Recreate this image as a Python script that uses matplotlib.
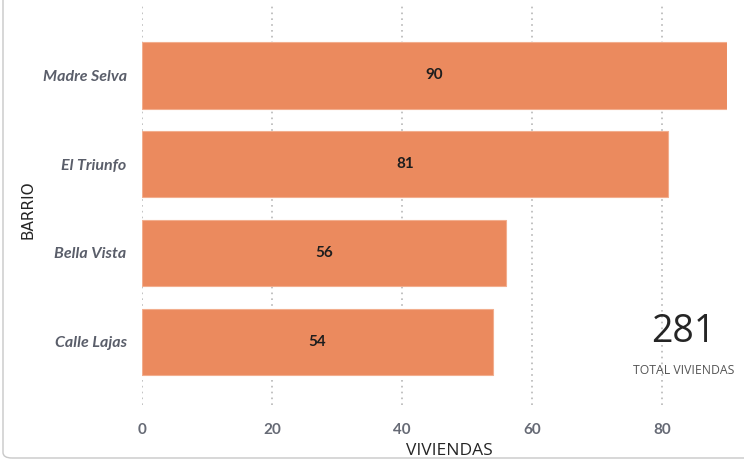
import matplotlib.pyplot as plt
from matplotlib.patches import FancyBboxPatch

barrios = ["Madre Selva", "El Triunfo", "Bella Vista", "Calle Lajas"]
viviendas = [90, 81, 56, 54]
xticks = [0, 20, 40, 60, 80]
total = sum(viviendas)

bar_color = "#EB8A5E"
label_color = "#5A5E6A"

plt.rcParams['font.family'] = ['Lato', 'DejaVu Sans']

fig = plt.figure(figsize=(7.44, 4.62), dpi=100)
ax = fig.add_axes([142 / 744, 1 - 405 / 462, 585 / 744, 400 / 462])

# light frame round the visual (only left and bottom edges show)
frame = FancyBboxPatch((3 / 744, 1 - 458 / 462), 1.2, 1.2, boxstyle="round,pad=0,rounding_size=0.012",
                       transform=fig.transFigure, fill=False, edgecolor="#C8C8C8", linewidth=1.0)
fig.patches.append(frame)

ypos = list(range(len(barrios)))
ax.barh(ypos, viviendas, height=0.75, color=bar_color, edgecolor="#F2AE8E", linewidth=0.8, zorder=2)
for y, v in zip(ypos, viviendas):
    ax.text(v / 2, y, str(v), ha="center", va="center", fontsize=11, fontweight="bold",
            color="#1E1E1E", zorder=3)

ax.set_xlim(0, 90)
ax.set_ylim(3.71, -0.79)
ax.set_xticks(xticks)
ax.set_yticks(ypos)
ax.set_yticklabels(barrios, fontsize=11.5, fontweight="bold", fontstyle="italic", color=label_color)
ax.tick_params(axis="x", labelsize=11, labelcolor="#666A75", length=0, pad=13)
ax.tick_params(axis="y", length=0, pad=11)
for lab in ax.get_xticklabels():
    lab.set_fontweight("bold")
ax.grid(axis="x", linestyle=(0, (1, 2.5)), color="#B8B8B8", linewidth=1.2, zorder=0)
ax.set_axisbelow(True)
for s in ax.spines.values():
    s.set_visible(False)

fig.text(28 / 744, 1 - 210 / 462, "BARRIO", rotation=90, ha="center", va="center",
         fontsize=11, color="#252525", family=["DejaVu Sans"])
fig.text(449 / 744, 1 - 451 / 462, "VIVIENDAS", ha="center", va="center",
         fontsize=12.5, color="#252525", family=["Open Sans", "DejaVu Sans"])

fig.text(683 / 744, 1 - 332 / 462, str(total), ha="center", va="center",
         fontsize=27, color="#252525", family=["Open Sans", "DejaVu Sans"])
fig.text(684 / 744, 1 - 370 / 462, "TOTAL VIVIENDAS", ha="center", va="center",
         fontsize=8.8, color="#555555", family=["Open Sans", "DejaVu Sans"])

fig.savefig("out.png", dpi=100)
